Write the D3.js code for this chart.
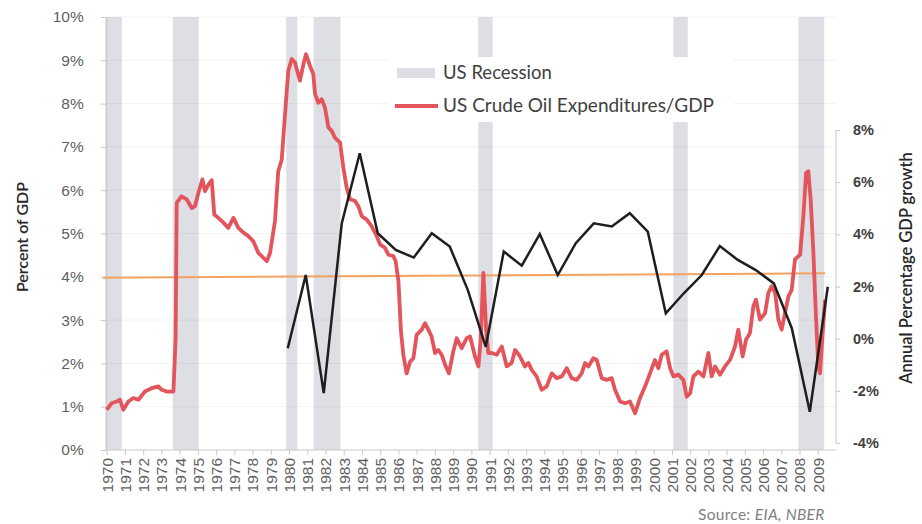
<!DOCTYPE html>
<html>
<head>
<meta charset="utf-8">
<script src="https://cdn.jsdelivr.net/npm/d3@7"></script>
<style>
  body { margin: 0; background: #fff; }
  svg { display: block; font-family: Lato, "Open Sans", sans-serif; }
</style>
</head>
<body>
<div id="vis"></div>
<script>
// ---- data ----
const years = d3.range(1970, 2010);
const leftTicks = d3.range(0, 11);
const rightTicks = [-4, -2, 0, 2, 4, 6, 8];

// NBER recessions [start, end] in decimal years
const recessions = [
  [1969.92, 1970.83], [1973.62, 1975.05], [1979.85, 1980.45], [1981.35, 1982.82],
  [1990.38, 1991.17], [2001.08, 2001.87], [2007.94, 2009.35]
];

// US crude oil expenditures / GDP, % (decimal year, value)
const oilShare = [
  [1970.00,0.93],[1970.27,1.08],[1970.55,1.12],[1970.73,1.16],[1970.91,0.93],[1971.19,1.12],
  [1971.46,1.20],[1971.74,1.16],[1972.10,1.35],[1972.47,1.43],[1972.83,1.47],[1973.02,1.39],
  [1973.29,1.35],[1973.66,1.35],[1973.78,2.58],[1973.84,5.71],[1974.11,5.86],[1974.39,5.79],
  [1974.66,5.59],[1974.84,5.63],[1975.03,5.94],[1975.25,6.25],[1975.39,5.98],[1975.58,6.13],
  [1975.76,6.23],[1975.90,5.44],[1976.12,5.36],[1976.40,5.25],[1976.67,5.13],[1976.95,5.36],
  [1977.22,5.13],[1977.50,5.02],[1977.77,4.94],[1978.04,4.82],[1978.32,4.55],[1978.59,4.44],
  [1978.78,4.36],[1978.96,4.55],[1979.23,5.29],[1979.41,6.44],[1979.60,6.71],[1979.78,7.75],
  [1979.96,8.76],[1980.15,9.03],[1980.33,8.95],[1980.42,8.80],[1980.60,8.53],[1980.79,8.91],
  [1980.93,9.14],[1981.15,8.87],[1981.33,8.68],[1981.43,8.22],[1981.61,8.02],[1981.79,8.10],
  [1981.97,7.91],[1982.16,7.45],[1982.34,7.37],[1982.52,7.21],[1982.80,7.10],[1982.98,6.52],
  [1983.16,6.06],[1983.35,5.79],[1983.62,5.75],[1983.80,5.63],[1983.99,5.40],[1984.26,5.32],
  [1984.53,5.17],[1984.81,4.94],[1984.99,4.75],[1985.26,4.67],[1985.45,4.51],[1985.72,4.48],
  [1985.85,4.36],[1986.00,3.90],[1986.14,2.74],[1986.27,2.20],[1986.45,1.77],[1986.64,2.04],
  [1986.82,2.12],[1987.00,2.66],[1987.28,2.78],[1987.46,2.93],[1987.64,2.78],[1987.82,2.62],
  [1988.01,2.24],[1988.19,2.31],[1988.37,2.20],[1988.56,1.97],[1988.77,1.77],[1989.01,2.28],
  [1989.20,2.58],[1989.47,2.35],[1989.74,2.58],[1989.93,2.62],[1990.20,2.16],[1990.39,1.93],
  [1990.51,2.55],[1990.66,4.09],[1990.81,2.78],[1990.93,2.24],[1991.12,2.24],[1991.39,2.20],
  [1991.67,2.39],[1991.94,1.93],[1992.21,2.01],[1992.40,2.31],[1992.67,2.16],[1992.94,1.93],
  [1993.13,2.01],[1993.31,1.85],[1993.58,1.70],[1993.86,1.39],[1994.13,1.47],[1994.41,1.77],
  [1994.68,1.66],[1994.96,1.70],[1995.23,1.89],[1995.50,1.66],[1995.78,1.62],[1996.05,1.77],
  [1996.24,2.01],[1996.42,1.93],[1996.69,2.12],[1996.88,2.08],[1997.15,1.66],[1997.42,1.62],
  [1997.70,1.66],[1997.88,1.39],[1998.16,1.12],[1998.43,1.08],[1998.70,1.12],[1998.98,0.85],
  [1999.25,1.20],[1999.53,1.47],[1999.80,1.77],[2000.07,2.08],[2000.26,1.89],[2000.44,2.20],
  [2000.71,2.28],[2000.90,1.89],[2001.08,1.70],[2001.35,1.74],[2001.63,1.62],[2001.81,1.23],
  [2002.00,1.31],[2002.18,1.70],[2002.45,1.81],[2002.73,1.70],[2003.00,2.24],[2003.18,1.70],
  [2003.37,1.93],[2003.64,1.74],[2003.91,1.93],[2004.19,2.08],[2004.46,2.39],[2004.64,2.78],
  [2004.88,2.16],[2005.07,2.55],[2005.28,2.70],[2005.47,3.32],[2005.61,3.47],[2005.83,3.01],
  [2006.11,3.16],[2006.29,3.63],[2006.47,3.78],[2006.66,3.63],[2006.84,3.01],[2007.02,2.78],
  [2007.20,3.16],[2007.39,3.55],[2007.57,3.70],[2007.75,4.40],[2008.03,4.51],[2008.21,5.40],
  [2008.36,6.40],[2008.48,6.44],[2008.61,5.79],[2008.76,4.55],[2008.90,3.09],[2009.03,1.93],
  [2009.12,1.77],[2009.27,2.70],[2009.40,3.47]
];

// annual real GDP growth, % (right axis)
const gdpYears = d3.range(1980, 2011);
const gdpGrowth = [
  -0.37, 2.44, -2.09, 4.42, 7.11, 4.04, 3.40, 3.11, 4.04, 3.53,
  1.87, -0.31, 3.34, 2.80, 4.01, 2.44, 3.66, 4.42, 4.30, 4.81,
  4.10, 0.97, 1.74, 2.44, 3.55, 3.02, 2.63, 2.12, 0.40, -2.80, 1.99
];

// 4% reference line
const refLine = [[1969.8, 3.98], [2009.4, 4.08]];

// ---- layout ----
const W = 922, H = 524;
const plotL = 106.7, plotR = 836, plotT = 17, plotB = 450;

const svg = d3.select("#vis").append("svg")
    .attr("width", W)
    .attr("height", H);

const x = d3.scaleLinear().domain([1970, 2010]).range([plotL, plotR]);
const y = d3.scaleLinear().domain([0, 10]).range([plotB, plotT]);
const y2 = d3.scaleLinear().domain([-4, 8]).range([443, 130]);
// GDP points sit on their own category spacing
const xg = d3.scaleLinear().domain([1980, 2010]).range([x(1979.93), x(2009.55)]);

// recession bands
svg.append("g").selectAll("rect")
    .data(recessions)
    .enter().append("rect")
    .attr("x", d => x(d[0]))
    .attr("y", plotT)
    .attr("width", d => x(d[1]) - x(d[0]))
    .attr("height", plotB - plotT)
    .attr("fill", "#dedee5");

// faint gridlines
svg.append("g").selectAll("line")
    .data(leftTicks.slice(1))
    .enter().append("line")
    .attr("x1", plotL).attr("x2", plotR)
    .attr("y1", d => y(d)).attr("y2", d => y(d))
    .attr("stroke", "#000").attr("stroke-opacity", 0.05);

// left axis
const gLeft = svg.append("g")
    .attr("transform", "translate(" + plotL + ",0)")
    .call(d3.axisLeft(y).tickValues(leftTicks).tickFormat(d => d + "%").tickSize(6).tickPadding(17));
gLeft.select(".domain").attr("stroke", "#c8c8c8").attr("d", "M0," + plotB + "V" + plotT);
gLeft.selectAll(".tick line").attr("stroke", "#c8c8c8");
gLeft.selectAll("text").attr("fill", "#5f5f5f").style("font-size", "15.5px");

// bottom axis
const gBottom = svg.append("g")
    .attr("transform", "translate(0," + plotB + ")")
    .call(d3.axisBottom(x).tickValues(years).tickFormat(d3.format("d")).tickSize(5));
gBottom.select(".domain").attr("stroke", "#c8c8c8").attr("d", "M" + plotL + ",0H" + plotR);
gBottom.selectAll(".tick line").attr("stroke", "#c8c8c8");
gBottom.selectAll("text")
    .attr("fill", "#5f5f5f")
    .style("font-size", "15.5px")
    .attr("text-anchor", "end")
    .attr("transform", "rotate(-90)")
    .attr("x", -8).attr("y", 0).attr("dy", "0.35em");

// right axis
const gRight = svg.append("g")
    .attr("transform", "translate(" + plotR + ",0)")
    .call(d3.axisRight(y2).tickValues(rightTicks).tickFormat(d => d + "%").tickSize(4).tickPadding(13));
gRight.select(".domain").attr("stroke", "#c8c8c8").attr("d", "M0," + y2(8) + "V" + y2(-4));
gRight.selectAll(".tick line").attr("stroke", "#c8c8c8");
gRight.selectAll("text").attr("fill", "#404040").style("font-size", "14.5px").style("font-weight", "bold");

// orange 4% line
svg.append("path")
    .datum(refLine)
    .attr("fill", "none")
    .attr("stroke", "#f4a261")
    .attr("stroke-width", 2)
    .attr("d", d3.line().x(d => x(d[0])).y(d => y(d[1])));

// oil share line
svg.append("path")
    .datum(oilShare)
    .attr("fill", "none")
    .attr("stroke", "#e3545b")
    .attr("stroke-width", 3.8)
    .attr("stroke-linejoin", "round")
    .attr("d", d3.line().x(d => x(d[0])).y(d => y(d[1])));

// gdp growth line
svg.append("path")
    .datum(gdpGrowth)
    .attr("fill", "none")
    .attr("stroke", "#1e1e1e")
    .attr("stroke-width", 2.5)
    .attr("d", d3.line().x((d, i) => xg(gdpYears[i])).y(d => y2(d)));

// legend
const lg = svg.append("g");
lg.append("rect").attr("x", 388).attr("y", 57).attr("width", 345).attr("height", 65).attr("fill", "#fff");
lg.append("rect").attr("x", 397).attr("y", 68).attr("width", 38).attr("height", 10).attr("fill", "#dedee5");
lg.append("text").attr("x", 443).attr("y", 73).attr("dy", "0.35em")
    .style("font-size", "18.5px").attr("fill", "#404040").text("US Recession");
lg.append("line").attr("x1", 395).attr("x2", 438).attr("y1", 106).attr("y2", 106)
    .attr("stroke", "#e3545b").attr("stroke-width", 3.8);
lg.append("text").attr("x", 443).attr("y", 105).attr("dy", "0.35em")
    .style("font-size", "19px").attr("fill", "#404040").text("US Crude Oil Expenditures/GDP");

// axis titles
svg.append("text")
    .attr("transform", "translate(22,237)rotate(-90)")
    .attr("text-anchor", "middle").attr("dy", "0.35em")
    .style("font-size", "16px").style("font-weight", "600").attr("fill", "#262626")
    .text("Percent of GDP");
svg.append("text")
    .attr("transform", "translate(906,268)rotate(-90)")
    .attr("text-anchor", "middle").attr("dy", "0.35em")
    .style("font-size", "16.5px").style("font-weight", "600").attr("fill", "#262626")
    .text("Annual Percentage GDP growth");

// source
const src = svg.append("text")
    .attr("x", 698).attr("y", 520)
    .style("font-size", "15.5px").style("letter-spacing", "0.3px").attr("fill", "#7f7f7f");
src.append("tspan").text("Source: ");
src.append("tspan").style("font-style", "italic").text("EIA, NBER");
</script>
</body>
</html>
